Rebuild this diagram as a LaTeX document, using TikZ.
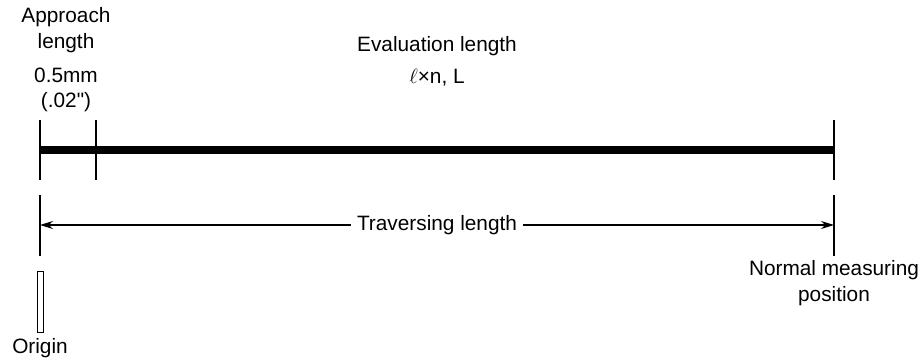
\documentclass[tikz,border=0pt]{standalone}
\usepackage{fontspec}
\setmainfont[Ligatures=TeXOff]{Liberation Sans}
\usetikzlibrary{arrows.meta}
\begin{document}
\begin{tikzpicture}[x=1pt,y=-1pt,
  lbl/.style={font=\fontsize{20.8}{25.5}\selectfont, align=center, inner sep=0pt},
  tick/.style={line width=1.3pt},
  bar/.style={line width=7.5pt},
  dim/.style={line width=1.2pt}]
\useasboundingbox (0,0) rectangle (923,361);
% ticks
\coordinate (t1a) at (40,120); \coordinate (t1b) at (40,180);
\coordinate (t2a) at (96,120); \coordinate (t2b) at (96,180);
\coordinate (t3a) at (834,120); \coordinate (t3b) at (834,180);
\coordinate (b1a) at (40,195); \coordinate (b1b) at (40,256);
\coordinate (b3a) at (834,195); \coordinate (b3b) at (834,256);
\draw[tick] (t1a) -- (t1b);
\draw[tick] (t2a) -- (t2b);
\draw[tick] (t3a) -- (t3b);
\draw[tick] (b1a) -- (b1b);
\draw[tick] (b3a) -- (b3b);
% bar
\coordinate (barL) at (40,150); \coordinate (barR) at (834,150);
\draw[bar] (barL) -- (barR);
% traversing length
\coordinate (arL) at (40,225); \coordinate (arR) at (834,225);
\node[lbl, fill=white, inner xsep=6pt] (trav) at (437,225) {Traversing length};
\draw[dim, -{Stealth[length=13pt,width=8pt]}] (trav.east) -- (arR);
\draw[dim, -{Stealth[length=13pt,width=8pt]}] (trav.west) -- (arL);
% origin
\node[draw, line width=1pt, minimum width=6pt, minimum height=61pt, inner sep=0pt] (orig) at (40,301.5) {};
\node[lbl] (origl) at (40,348) {Origin};
% labels
\node[lbl] (appr) at (66,30) {Approach\\length};
\node[lbl] (mm) at (66,90) {0.5mm\\(.02")};
\node[lbl] (eval) at (437,46) {Evaluation length};
\node[lbl] (elln) at (437,78) {$\ell$×n, L};
\node[lbl] (nmp) at (834,283) {Normal measuring\\position};
\end{tikzpicture}
\end{document}
